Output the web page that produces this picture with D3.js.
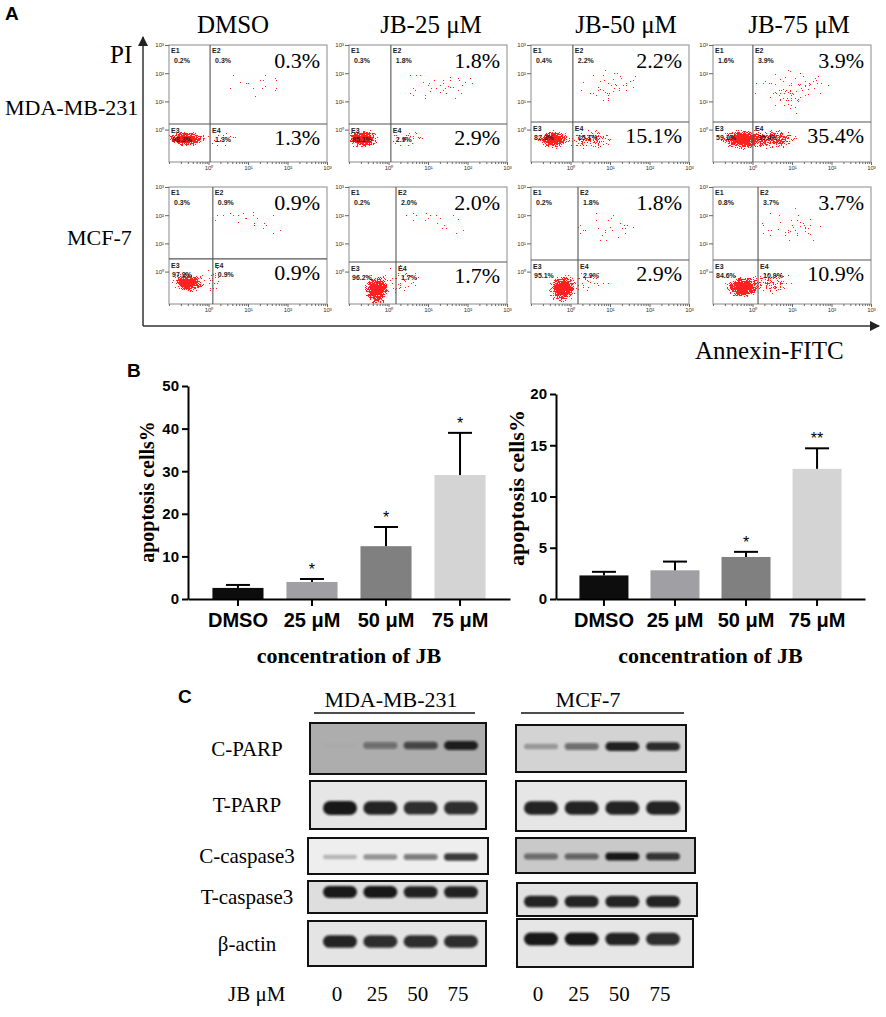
<!DOCTYPE html>
<html>
<head>
<meta charset="utf-8">
<script src="https://cdn.jsdelivr.net/npm/d3@7"></script>
<style>
  body { margin: 0; background: #fff; }
  svg { display: block; }
</style>
</head>
<body>
<script>
// ---------- values ----------
const treatments = ['DMSO', 'JB-25 μM', 'JB-50 μM', 'JB-75 μM'];
const cellLines = ['MDA-MB-231', 'MCF-7'];

// flow cytometry quadrants E1, E2, E3, E4 (%)
const quadMDA = [[0.2, 0.3, 98.3, 1.3], [0.3, 1.8, 95.1, 2.9], [0.4, 2.2, 82.3, 15.1], [1.6, 3.9, 59.1, 35.4]];
const quadMCF = [[0.3, 0.9, 97.9, 0.9], [0.2, 2.0, 96.2, 1.7], [0.2, 1.8, 95.1, 2.9], [0.8, 3.7, 84.6, 10.9]];

// quadrant gates, log10 units
const gateXMDA = [0.04, 0.06, 0.06, 0.01];
const gateYMDA = [0.20, 0.20, 0.27, 0.27];
const gateXMCF = [0.11, 0.19, 0.19, 0.14];
const gateYMCF = [0.45, 0.34, 0.41, 0.41];

// populations: [log10 Annexin, log10 PI, spread x (decades), spread y (decades), density]
const cloudsMDA = [
  [[-0.55, -0.33, 0.55, 0.30, 1], [0.3, -0.3, 0.5, 0.35, 0.14], [1.2, 1.6, 0.9, 0.6, 0.05]],
  [[-0.65, -0.33, 0.44, 0.38, 1], [0.4, -0.3, 0.6, 0.35, 0.18], [1.3, 1.6, 1.0, 0.6, 0.10]],
  [[-0.42, -0.35, 0.42, 0.36, 1], [0.5, -0.35, 0.7, 0.4, 0.42], [1.0, 1.6, 0.8, 0.7, 0.14]],
  [[-0.22, -0.35, 0.68, 0.38, 1], [0.6, -0.35, 0.6, 0.4, 0.65], [1.0, 1.4, 1.0, 0.9, 0.16]]
];
const cloudsMCF = [
  [[-0.52, -0.40, 0.45, 0.38, 1], [0.1, -0.3, 0.6, 0.45, 0.18], [1.0, 1.7, 1.0, 0.6, 0.08]],
  [[-0.30, -0.65, 0.35, 0.62, 1], [0.3, -0.3, 0.6, 0.55, 0.18], [1.2, 1.8, 1.0, 0.6, 0.10]],
  [[-0.20, -0.60, 0.38, 0.56, 1], [0.4, -0.4, 0.6, 0.45, 0.20], [1.0, 1.6, 0.9, 0.6, 0.12]],
  [[-0.25, -0.55, 0.48, 0.44, 1], [0.45, -0.4, 0.6, 0.45, 0.40], [1.0, 1.6, 0.9, 0.7, 0.15]]
];

// apoptosis bar charts
const barCats = ['DMSO', '25 μM', '50 μM', '75 μM'];
const apoMDA = [2.6, 4.0, 12.4, 29.1];
const errMDA = [0.7, 0.7, 4.5, 9.9];
const sigMDA = ['', '*', '*', '*'];
const ticksMDA = [0, 10, 20, 30, 40, 50];
const apoMCF = [2.3, 2.8, 4.1, 12.7];
const errMCF = [0.35, 0.85, 0.5, 2.0];
const sigMCF = ['', '', '*', '**'];
const ticksMCF = [0, 5, 10, 15, 20];

// western blots, relative band intensity per dose
const doses = [0, 25, 50, 75];
const blotRows = ['C-PARP', 'T-PARP', 'C-caspase3', 'T-caspase3', 'β-actin'];
const bandsMDA = [
  [0.03, 0.45, 0.7, 0.95],
  [1, 0.95, 0.9, 0.9],
  [0.25, 0.4, 0.55, 0.85],
  [1, 1, 0.95, 0.95],
  [0.95, 0.9, 0.9, 0.9]
];
const bandsMCF = [
  [0.3, 0.55, 0.95, 0.9],
  [0.95, 0.95, 0.95, 0.95],
  [0.55, 0.6, 1, 0.85],
  [0.95, 0.95, 0.95, 0.95],
  [1, 1, 0.95, 0.9]
];

// ---------- page ----------
const W = 886, H = 1017;
const serif = 'Liberation Serif, Times New Roman, serif',
      sans = 'Liberation Sans, Arial, sans-serif';

const svg = d3.select('body').append('svg')
              .attr('width', W)
              .attr('height', H)
              .attr('font-family', serif);

const defs = svg.append('defs');

const grad = defs.append('radialGradient').attr('id', 'cloud');
[[0, 1], [0.35, 0.92], [0.7, 0.45], [1, 0]].forEach(s => {
  grad.append('stop').attr('offset', s[0]).attr('stop-color', '#f00').attr('stop-opacity', s[1]);
});

// turns a smooth density into scattered red dots
const speck = defs.append('filter').attr('id', 'speck')
                  .attr('filterUnits', 'userSpaceOnUse')
                  .attr('x', 0).attr('y', 0).attr('width', W).attr('height', 340)
                  .attr('color-interpolation-filters', 'sRGB');
speck.append('feTurbulence').attr('type', 'fractalNoise').attr('baseFrequency', 1.4)
     .attr('numOctaves', 1).attr('seed', 5).attr('result', 'noise');
speck.append('feColorMatrix').attr('in', 'noise').attr('type', 'matrix')
     .attr('values', '0 0 0 0 0  0 0 0 0 0  0 0 0 0 0  2 0 0 0 -0.5').attr('result', 'na');
speck.append('feComposite').attr('in', 'SourceGraphic').attr('in2', 'na').attr('operator', 'arithmetic')
     .attr('k1', 0).attr('k2', 1).attr('k3', -1).attr('k4', 0.49).attr('result', 'd');
speck.append('feComponentTransfer').attr('in', 'd').attr('result', 't')
     .append('feFuncA').attr('type', 'discrete').attr('tableValues', '0 1');
speck.append('feFlood').attr('flood-color', '#ff2020').attr('result', 'red');
speck.append('feComposite').attr('in', 'red').attr('in2', 't').attr('operator', 'in');

defs.append('filter').attr('id', 'bandBlur')
    .attr('x', '-30%').attr('y', '-80%').attr('width', '160%').attr('height', '260%')
    .append('feGaussianBlur').attr('stdDeviation', 1.3);

defs.append('marker').attr('id', 'arrow')
    .attr('viewBox', '0 0 10 10').attr('refX', 9).attr('refY', 5)
    .attr('markerWidth', 7).attr('markerHeight', 7).attr('orient', 'auto')
    .append('path').attr('d', 'M0,0L10,5L0,10z').attr('fill', '#222');

const panelLabel = (x, y, t) => svg.append('text').attr('x', x).attr('y', y)
  .attr('font-family', sans).attr('font-weight', 'bold').attr('font-size', 19).text(t);

// ================= A: flow cytometry =================
const colLeft = [169, 349, 531, 713],
      rowTop = [45, 187],
      plotW = 158,
      plotH = 117,
      titleX = [233, 431, 626, 799];

const supDigits = '⁰¹²³';
const decLabel = d => {
  const e = Math.round(Math.log10(d) * 1000) / 1000;
  return Number.isInteger(e) && e >= 0 ? '10' + supDigits[e] : '';
};

const flowRows = [
  { quad: quadMDA, gx: gateXMDA, gy: gateYMDA, clouds: cloudsMDA },
  { quad: quadMCF, gx: gateXMCF, gy: gateYMCF, clouds: cloudsMCF }
];

panelLabel(5, 20, 'A');

treatments.forEach((t, c) => {
  svg.append('text').attr('x', titleX[c]).attr('y', 33)
     .attr('text-anchor', 'middle').attr('font-size', 25).text(t);
});

svg.append('text').attr('x', 110).attr('y', 63).attr('font-size', 25).text('PI');
svg.append('text').attr('x', 5).attr('y', 115).attr('font-size', 22).text(cellLines[0]);
svg.append('text').attr('x', 67).attr('y', 245).attr('font-size', 22).text(cellLines[1]);

flowRows.forEach((row, r) => {
  treatments.forEach((t, c) => {
    const x0 = colLeft[c], y0 = rowTop[r];
    const xs = d3.scaleLog().domain([0.1, 1000]).range([x0, x0 + plotW]);
    const ys = d3.scaleLog().domain([Math.pow(10, -1.15), 1000]).range([y0 + plotH, y0]);
    const p10 = v => Math.pow(10, v);

    const g = svg.append('g').attr('class', 'flow');
    const clipId = 'clip' + r + c;
    defs.append('clipPath').attr('id', clipId)
        .append('rect').attr('x', x0).attr('y', y0).attr('width', plotW).attr('height', plotH);

    const clip = g.append('g').attr('clip-path', 'url(#' + clipId + ')');
    const placeCloud = sel => sel
      .attr('cx', d => xs(p10(d[0])))
      .attr('cy', d => ys(p10(d[1])))
      .attr('rx', d => xs(p10(d[0] + d[2])) - xs(p10(d[0])))
      .attr('ry', d => ys(p10(d[1])) - ys(p10(d[1] + d[3])))
      .attr('fill', 'url(#cloud)');

    // faint pink haze, then the dotted events on top
    clip.append('g').selectAll('ellipse').data(row.clouds[c]).join('ellipse')
        .call(placeCloud).attr('opacity', d => d[4] * 0.14);
    clip.append('g').attr('filter', 'url(#speck)')
        .selectAll('ellipse').data(row.clouds[c]).join('ellipse')
        .call(placeCloud).attr('opacity', d => d[4]);

    g.append('rect').attr('x', x0).attr('y', y0).attr('width', plotW).attr('height', plotH)
     .attr('fill', 'none').attr('stroke', '#8a8a8a').attr('stroke-width', 1);

    const gx = xs(p10(row.gx[c])), gy = ys(p10(row.gy[c]));
    g.append('line').attr('x1', gx).attr('x2', gx).attr('y1', y0).attr('y2', y0 + plotH)
     .attr('stroke', '#555').attr('stroke-width', 1.1);
    g.append('line').attr('x1', x0).attr('x2', x0 + plotW).attr('y1', gy).attr('y2', gy)
     .attr('stroke', '#555').attr('stroke-width', 1.1);

    const xAx = g.append('g').attr('transform', 'translate(0,' + (y0 + plotH) + ')')
                 .call(d3.axisBottom(xs).tickSize(3).tickPadding(1).tickFormat(decLabel));
    xAx.selectAll('line').attr('y2', d => decLabel(d) ? 3 : 2);
    const yAx = g.append('g').attr('transform', 'translate(' + x0 + ',0)')
                 .call(d3.axisLeft(ys).tickValues([1, 10, 100, 1000]).tickSize(4).tickPadding(1).tickFormat(decLabel));
    [xAx, yAx].forEach(a => {
      a.select('.domain').remove();
      a.selectAll('line').attr('stroke', '#666');
      a.selectAll('text').attr('font-family', sans).attr('font-size', 6).attr('fill', '#333');
    });

    const q = row.quad[c];
    const small = [
      ['E1', x0 + 2, y0 + 8, true], [q[0] + '%', x0 + 5, y0 + 18, false],
      ['E2', gx + 2, y0 + 8, true], [q[1].toFixed(1) + '%', gx + 5, y0 + 18, false],
      ['E3', x0 + 2, gy + 9, true], [q[2] + '%', x0 + 3, gy + 18, false],
      ['E4', gx + 2, gy + 9, true], [q[3].toFixed(1) + '%', gx + 5, gy + 18, false]
    ];
    g.selectAll('text.q').data(small).join('text').attr('class', 'q')
     .attr('x', d => d[1]).attr('y', d => d[2])
     .attr('font-family', sans).attr('font-size', 7)
     .attr('font-weight', d => d[3] ? 'bold' : 600)
     .attr('fill', '#222').text(d => d[0]);

    g.append('text').attr('x', x0 + plotW - 7).attr('y', y0 + 23)
     .attr('text-anchor', 'end').attr('font-size', 22).text(q[1].toFixed(1) + '%');
    g.append('text').attr('x', x0 + plotW - 7).attr('y', gy + 21)
     .attr('text-anchor', 'end').attr('font-size', 22).text(q[3].toFixed(1) + '%');
  });
});

svg.append('path').attr('d', 'M143,326V37').attr('stroke', '#333').attr('stroke-width', 1.5)
   .attr('fill', 'none').attr('marker-end', 'url(#arrow)');
svg.append('path').attr('d', 'M143,326H879').attr('stroke', '#333').attr('stroke-width', 1.5)
   .attr('fill', 'none').attr('marker-end', 'url(#arrow)');
svg.append('text').attr('x', 695).attr('y', 359).attr('font-size', 25).text('Annexin-FITC');

// ================= B: apoptosis bars =================
panelLabel(127, 377, 'B');

const barFill = ['#0d0d0d', '#a0a0a4', '#808080', '#d4d4d4'];

function drawBars(cfg) {
  const x = d3.scaleBand().domain(barCats).range(cfg.xRange).paddingInner(0.31).paddingOuter(0.33);
  const y = d3.scaleLinear().domain([0, d3.max(cfg.ticks)]).range(cfg.yRange);
  const g = svg.append('g');
  const rows = barCats.map((k, i) => ({ k: k, v: cfg.vals[i], e: cfg.errs[i], s: cfg.sig[i], c: barFill[i] }));

  g.selectAll('rect').data(rows).join('rect')
   .attr('x', d => x(d.k)).attr('width', x.bandwidth())
   .attr('y', d => y(d.v)).attr('height', d => y(0) - y(d.v))
   .attr('fill', d => d.c);

  const cx = d => x(d.k) + x.bandwidth() / 2;
  g.selectAll('line.err').data(rows).join('line').attr('class', 'err')
   .attr('x1', cx).attr('x2', cx).attr('y1', d => y(d.v)).attr('y2', d => y(d.v + d.e))
   .attr('stroke', '#000').attr('stroke-width', 2);
  g.selectAll('line.cap').data(rows).join('line').attr('class', 'cap')
   .attr('x1', d => cx(d) - 12).attr('x2', d => cx(d) + 12)
   .attr('y1', d => y(d.v + d.e)).attr('y2', d => y(d.v + d.e))
   .attr('stroke', '#000').attr('stroke-width', 2);
  g.selectAll('text.sig').data(rows).join('text').attr('class', 'sig')
   .attr('x', cx).attr('y', d => y(d.v + d.e) - 4)
   .attr('text-anchor', 'middle').attr('font-family', sans).attr('font-size', 16)
   .text(d => d.s);

  const yAx = g.append('g').attr('transform', 'translate(' + cfg.xRange[0] + ',0)')
               .call(d3.axisLeft(y).tickValues(cfg.ticks).tickSize(6).tickSizeOuter(0).tickPadding(3));
  const xAx = g.append('g').attr('transform', 'translate(0,' + cfg.yRange[0] + ')')
               .call(d3.axisBottom(x).tickSize(7).tickSizeOuter(0).tickPadding(7));
  [xAx, yAx].forEach(a => {
    a.select('.domain').attr('stroke-width', 2);
    a.selectAll('line').attr('stroke-width', 2);
    a.selectAll('text').attr('font-family', sans).attr('font-weight', 'bold').attr('fill', '#000');
  });
  yAx.selectAll('text').attr('font-size', 15);
  xAx.selectAll('text').attr('font-size', 20);

  g.append('text')
   .attr('transform', 'translate(' + cfg.yTitle[0] + ',' + cfg.yTitle[1] + ') rotate(-90)')
   .attr('text-anchor', 'middle').attr('dy', '0.3em')
   .attr('font-weight', 'bold').attr('font-size', cfg.yTitle[2])
   .text('apoptosis cells%');
  g.append('text')
   .attr('x', (cfg.xRange[0] + cfg.xRange[1]) / 2).attr('y', 663)
   .attr('text-anchor', 'middle').attr('font-weight', 'bold').attr('font-size', 22)
   .text('concentration of JB');
}

drawBars({ vals: apoMDA, errs: errMDA, sig: sigMDA, ticks: ticksMDA,
           xRange: [188, 510], yRange: [599, 386], yTitle: [148, 492, 20] });
drawBars({ vals: apoMCF, errs: errMCF, sig: sigMCF, ticks: ticksMCF,
           xRange: [556, 865], yRange: [599, 394], yTitle: [517, 488, 22] });

// ================= C: western blots =================
panelLabel(178, 703, 'C');

const blotBoxes = {
  mda: { x: [[310, 486], [310, 486], [308, 488], [308, 487], [308, 486]],
         y: [[723, 51], [781, 48], [838, 36], [881, 32], [921, 45]],
         off: [-3, 3, 1, -5, -2],
         bg: ['#adadad', '#e6e6e6', '#eeeeee', '#dedede', '#e4e4e4'],
         lanes: [340, 461] },
  mcf: { x: [[516, 686], [516, 686], [516, 695], [517, 697], [517, 693]],
         y: [[725, 47], [781, 50], [838, 35], [883, 33], [919, 48]],
         off: [-2, 2, 1, 2, -4],
         bg: ['#d3d3d3', '#e6e6e6', '#c9c9c9', '#e2e2e2', '#e6e6e6'],
         lanes: [541, 663] }
};
const bandH = [9, 14, 8, 12, 13];
const bandAlpha = d3.scaleLinear().domain([0, 1]).range([0, 0.95]);

function drawBlot(bands, box, label, labelX, underline) {
  const lane = d3.scalePoint().domain(doses).range(box.lanes);
  const g = svg.append('g');
  blotRows.forEach((name, i) => {
    const bx = box.x[i], by = box.y[i];
    g.append('rect').attr('x', bx[0]).attr('y', by[0]).attr('width', bx[1] - bx[0]).attr('height', by[1])
     .attr('fill', box.bg[i]);
    const cy = by[0] + by[1] / 2 + box.off[i];
    g.append('g').attr('filter', 'url(#bandBlur)')
     .selectAll('rect').data(bands[i].map((v, j) => ({ d: doses[j], v: v }))).join('rect')
     .attr('x', d => lane(d.d) - 17).attr('width', 34)
     .attr('y', d => cy - bandH[i] * (0.45 + 0.55 * d.v) / 2)
     .attr('height', d => bandH[i] * (0.45 + 0.55 * d.v))
     .attr('rx', d => bandH[i] * (0.45 + 0.55 * d.v) / 2)
     .attr('fill', '#111').attr('fill-opacity', d => bandAlpha(d.v));
    g.append('rect').attr('x', bx[0]).attr('y', by[0]).attr('width', bx[1] - bx[0]).attr('height', by[1])
     .attr('fill', 'none').attr('stroke', '#111').attr('stroke-width', 2);
  });
  g.append('text').attr('x', labelX).attr('y', 707).attr('text-anchor', 'middle')
   .attr('font-size', 22).text(label);
  g.append('line').attr('x1', underline[0]).attr('x2', underline[1]).attr('y1', 713).attr('y2', 713)
   .attr('stroke', '#111').attr('stroke-width', 1.5);
  g.selectAll('text.dose').data(doses).join('text').attr('class', 'dose')
   .attr('x', d => lane(d) - 3).attr('y', 1001).attr('text-anchor', 'middle')
   .attr('font-size', 21).text(d => d);
}

drawBlot(bandsMDA, blotBoxes.mda, cellLines[0], 391, [314, 475]);
drawBlot(bandsMCF, blotBoxes.mcf, cellLines[1], 588, [521, 684]);

blotRows.forEach((name, i) => {
  const by = blotBoxes.mda.y[i];
  svg.append('text').attr('x', 247).attr('y', by[0] + by[1] / 2).attr('dy', '0.35em')
     .attr('text-anchor', 'middle').attr('font-size', 21).text(name);
});
svg.append('text').attr('x', 228).attr('y', 1001).attr('font-size', 21).text('JB μM');
</script>
</body>
</html>
